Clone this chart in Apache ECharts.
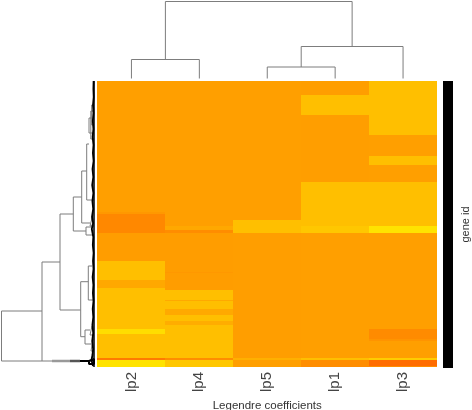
<!DOCTYPE html>
<html>
<head>
<meta charset="utf-8">
<script src="https://cdn.jsdelivr.net/npm/echarts@6/dist/echarts.min.js"></script>
<style>
html, body { margin: 0; padding: 0; background: #fff; }
#main { width: 472px; height: 410px; }
</style>
</head>
<body>
<div id="main"></div>
<script>
var coefficients = ['lp2', 'lp4', 'lp5', 'lp1', 'lp3'];
var rowCount = 286;

// each column, top to bottom: [number of rows, value]
var lp2Runs = [[131, .43], [2, .38], [19, .26], [28, .41], [19, .66], [8, .49], [41, .66], [5, .88], [24, .66], [2, .16], [7, .92]];
var lp4Runs = [[145, .43], [4, .49], [3, .3], [39, .41], [1, .38], [17, .41], [10, .66], [1, .5], [8, .66], [6, .5], [6, .66], [4, .53], [33, .66], [2, .3], [7, .72]];
var lp5Runs = [[139, .43], [13, .66], [125, .42], [2, .55], [7, .43]];
var lp1Runs = [[14, .42], [20, .66], [67, .42], [44, .66], [7, .72], [125, .43], [2, .66], [7, .3]];
var lp3Runs = [[54, .66], [21, .43], [9, .66], [17, .43], [44, .66], [7, .92], [96, .43], [10, .28], [2, .35], [17, .43], [2, .75], [6, .06], [1, .3]];
var columnRuns = [lp2Runs, lp4Runs, lp5Runs, lp1Runs, lp3Runs];

// dendrogram brackets: [position a, position b, height, height of a, height of b]
var topBrackets = [
    [0.5, 1.5, 19, 0, 0],
    [2.5, 3.5, 11.5, 0, 0],
    [3, 4.5, 32, 11.5, 0],
    [1, 3.75, 77, 19, 32]
];
var leftBrackets = [
    [230, 280, 92.5, 52, 52],
    [181, 280, 52, 34, 0],
    [133, 229, 34, 20.7, 13.3],
    [116, 150, 20.7, 12.3, 8],
    [90, 142, 12.3, 7.3, 4],
    [63, 119, 7.3, 5, 0],
    [37, 52, 5, 2.3, 0],
    [24, 44, 2.3, 0, 0],
    [30, 58, 3.2, 0, 0],
    [137, 145, 4, 2, 0],
    [146, 154, 8, 3, 0],
    [200.7, 255.7, 13.3, 5.7, 9],
    [185, 219, 5.7, 2, 0],
    [249, 263, 9, 4, 3],
    [245, 254, 4, 2, 0],
    [258, 270, 3, 1, 0]
];
// the dense leaf clusters next to the heatmap: [height, row]
var leafFringe = [[0.4, 0], [0.6, 8], [0.3, 16], [1, 24], [0.5, 32], [1.2, 40], [0.6, 48], [1.4, 56], [0.5, 64], [1.1, 72], [0.4, 80], [1.5, 88], [0.7, 96], [1.8, 104], [0.6, 112], [1.6, 120], [0.8, 128], [2, 136], [0.9, 142], [2.2, 148], [0.7, 156], [1.2, 164], [0.4, 172], [1, 180], [0.5, 188], [1.4, 196], [0.6, 204], [1.1, 212], [0.5, 220], [1.3, 228], [0.7, 236], [1.6, 244], [0.8, 252], [1.8, 260], [0.9, 268], [1.5, 274], [2.5, 279], [3, 281], [1, 285]];
var leafBase = [[0, 0], [0, 286]];
// the tight cluster at the bottom of the left tree: [height, row]
var bottomGrey = [[42, 280], [24, 280]];
var bottomDark = [[24, 280], [14, 280]];
var bottomBlack = [[14, 280], [5, 280], [5, 278], [0, 278], [0, 283], [5, 283], [5, 280]];
var sidebarValues = [1];

var runData = [];
columnRuns.forEach(function (runs, c) {
    var row = 0;
    runs.forEach(function (run) {
        runData.push([c, row, row + run[0], run[1]]);
        row += run[0];
    });
});

var topLines = [];
topBrackets.forEach(function (b) {
    topLines.push([b[0], b[3]], [b[0], b[2]], [b[1], b[2]], [b[1], b[4]], [null, null]);
});
var leftLines = [];
leftBrackets.forEach(function (b) {
    leftLines.push([b[3], b[0]], [b[2], b[0]], [b[2], b[1]], [b[4], b[1]], [null, null]);
});

// rounded edges so neighbouring columns do not leave a seam
function renderRun(params, api) {
    var bandWidth = api.size([1, 0])[0];
    var start = api.coord([api.value(0), api.value(1)]);
    var end = api.coord([api.value(0), api.value(2)]);
    var left = Math.round(start[0] - bandWidth / 2);
    var right = Math.round(start[0] + bandWidth / 2);
    return {
        type: 'rect',
        shape: { x: left, y: Math.round(start[1]), width: right - left, height: Math.round(end[1]) - Math.round(start[1]) },
        style: { fill: api.visual('color') }
    };
}

function treeLine(data, color, width) {
    return {
        type: 'line', xAxisIndex: 2, yAxisIndex: 2, data: data, symbol: 'none',
        connectNulls: false, clip: false, lineStyle: { color: color, width: width }
    };
}

var hidden = { show: false };
var option = {
    animation: false,
    backgroundColor: '#fff',
    textStyle: { fontFamily: '"Liberation Sans", Arial, sans-serif' },
    grid: [
        { left: 97.5, top: 81, width: 339.5, height: 286, outerBoundsMode: 'none' },
        { left: 97.5, top: 0, width: 339.5, height: 78.5, outerBoundsMode: 'none' },
        { left: 0, top: 81, width: 96, height: 286, outerBoundsMode: 'none' },
        { left: 443, top: 81, width: 10, height: 287, outerBoundsMode: 'none' }
    ],
    xAxis: [
        {
            gridIndex: 0, type: 'category', data: coefficients,
            axisLine: hidden, axisTick: hidden, splitLine: hidden,
            axisLabel: { rotate: 90, fontSize: 15, margin: 5, color: '#444', padding: [5, 0, 0, 0] },
            name: 'Legendre coefficients', nameLocation: 'middle', nameGap: 28,
            nameTextStyle: { fontSize: 11.5, color: '#333' }
        },
        { gridIndex: 1, type: 'value', min: 0, max: 5, show: false },
        { gridIndex: 2, type: 'value', min: -2, max: 94, inverse: true, show: false },
        { gridIndex: 3, type: 'category', data: ['gene id'], show: false }
    ],
    yAxis: [
        { gridIndex: 0, type: 'value', min: 0, max: rowCount, inverse: true, show: false },
        { gridIndex: 1, type: 'value', min: 0, max: 78.5, show: false },
        { gridIndex: 2, type: 'value', min: 0, max: 286, inverse: true, show: false },
        {
            gridIndex: 3, type: 'value', min: 0, max: 1, position: 'right',
            axisLine: hidden, axisTick: hidden, axisLabel: hidden, splitLine: hidden,
            name: 'gene id', nameLocation: 'middle', nameRotate: 90, nameGap: 7,
            nameTextStyle: { fontSize: 11, color: '#333' }
        }
    ],
    visualMap: {
        show: false, seriesIndex: 0, dimension: 3, min: 0, max: 1,
        inRange: { color: ['#ff6400', '#ffee00'] }
    },
    series: [
        {
            type: 'custom', xAxisIndex: 0, yAxisIndex: 0, data: runData,
            encode: { x: 0, y: [1, 2] }, renderItem: renderRun
        },
        {
            type: 'line', xAxisIndex: 1, yAxisIndex: 1, data: topLines, symbol: 'none',
            connectNulls: false, clip: false, lineStyle: { color: '#7d7d7d', width: 1 }
        },
        treeLine(leftLines, '#7d7d7d', 1),
        treeLine(bottomGrey, '#999', 2.5),
        treeLine(bottomDark, '#555', 2.5),
        treeLine(bottomBlack, '#000', 2),
        treeLine(leafBase, '#000', 1.5),
        treeLine(leafFringe, '#000', 1.8),
        {
            type: 'bar', xAxisIndex: 3, yAxisIndex: 3, data: sidebarValues, barWidth: '100%',
            itemStyle: { color: '#000' }
        }
    ]
};

var chart = echarts.init(document.getElementById('main'), null, { renderer: 'canvas' });
chart.setOption(option);
</script>
</body>
</html>
